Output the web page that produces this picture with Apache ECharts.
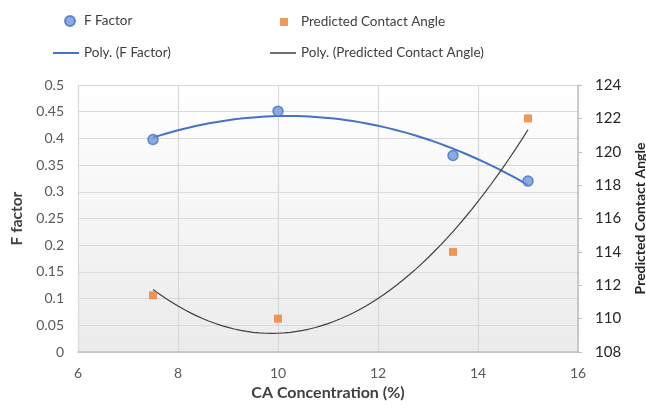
<!DOCTYPE html>
<html>
<head>
<meta charset="utf-8">
<script src="https://cdn.jsdelivr.net/npm/echarts@6/dist/echarts.min.js"></script>
<style>html,body{margin:0;padding:0;background:#fff;overflow:hidden}#c{width:646px;height:408px}</style>
</head>
<body>
<div id="c"></div>
<script>
// Data
const caConcentration = [7.5, 10, 13.5, 15];
const fFactor = [0.398, 0.451, 0.368, 0.320];
const contactAngle = [111.4, 110.0, 114.0, 122.0];
const xTicks = {min: 6, max: 16, interval: 2};
const leftTicks = {min: 0, max: 0.5, interval: 0.05};
const rightTicks = {min: 108, max: 124, interval: 2};

// Degree-2 least-squares polynomial trend line (as Excel "Poly." trendline)
function polyfit2(xs, ys) {
  let n = xs.length, s1 = 0, s2 = 0, s3 = 0, s4 = 0, t0 = 0, t1 = 0, t2 = 0;
  for (let i = 0; i < n; i++) {
    const x = xs[i], y = ys[i];
    s1 += x; s2 += x * x; s3 += x * x * x; s4 += x * x * x * x;
    t0 += y; t1 += x * y; t2 += x * x * y;
  }
  const M = [[n, s1, s2], [s1, s2, s3], [s2, s3, s4]], V = [t0, t1, t2];
  const det = m => m[0][0]*(m[1][1]*m[2][2]-m[1][2]*m[2][1]) - m[0][1]*(m[1][0]*m[2][2]-m[1][2]*m[2][0]) + m[0][2]*(m[1][0]*m[2][1]-m[1][1]*m[2][0]);
  const D = det(M);
  const coef = [0, 1, 2].map(k => det(M.map((row, r) => row.map((v, c) => c === k ? V[r] : v))) / D);
  return x => coef[0] + coef[1] * x + coef[2] * x * x;
}
function trend(xs, ys) {
  const f = polyfit2(xs, ys), out = [];
  const x0 = Math.min(...xs), x1 = Math.max(...xs);
  for (let i = 0; i <= 60; i++) { const x = x0 + (x1 - x0) * i / 60; out.push([x, f(x)]); }
  return out;
}

const FONT = 'Lato';
const chart = echarts.init(document.getElementById('c'));
const legendText = {fontFamily: FONT, fontSize: 13.5, color: '#404040'};
chart.setOption({
  animation: false,
  textStyle: {fontFamily: FONT},
  legend: [
    {data: [{name: 'F Factor', icon: 'circle'}], left: 64, top: 14, padding: 0, itemWidth: 10, itemHeight: 10, textStyle: Object.assign({padding: [0, 0, 0, 4]}, legendText)},
    {data: [{name: 'Predicted Contact Angle', icon: 'rect'}], left: 280, top: 15, padding: 0, itemWidth: 8, itemHeight: 8, textStyle: Object.assign({padding: [0, 0, 0, 8]}, legendText)},
    {data: [{name: 'Poly. (F Factor)', icon: 'rect'}], left: 53, top: 46, padding: 0, itemWidth: 26, itemHeight: 2, textStyle: legendText},
    {data: [{name: 'Poly. (Predicted Contact Angle)', icon: 'rect'}], left: 270, top: 46, padding: 0, itemWidth: 26, itemHeight: 1.5, textStyle: legendText}
  ],
  grid: {
    left: 78, right: 68, top: 85, bottom: 56, show: true, borderWidth: 0,
    outerBoundsMode: 'none', containLabel: false,
    backgroundColor: {type: 'linear', x: 0, y: 0, x2: 0, y2: 1, colorStops: [{offset: 0, color: '#ffffff'}, {offset: 1, color: '#ebebeb'}]}
  },
  xAxis: {
    type: 'value', min: xTicks.min, max: xTicks.max, interval: xTicks.interval,
    name: 'CA Concentration (%)', nameLocation: 'middle', nameGap: 33,
    nameTextStyle: {fontFamily: FONT, fontSize: 16, fontWeight: 'bold', color: '#404040'},
    axisLine: {show: true, lineStyle: {color: '#bfbfbf', width: 1.5}},
    axisTick: {show: false},
    axisLabel: {fontFamily: FONT, fontSize: 14, color: '#595959', margin: 14},
    splitLine: {show: true, lineStyle: {color: '#d9d9d9', width: 1.2}}
  },
  yAxis: [
    {
      type: 'value', min: leftTicks.min, max: leftTicks.max, interval: leftTicks.interval,
      name: 'F factor', nameLocation: 'middle', nameGap: 48,
      nameTextStyle: {fontFamily: FONT, fontSize: 15.5, fontWeight: 'bold', color: '#404040'},
      axisLine: {show: false}, axisTick: {show: false},
      axisLabel: {fontFamily: FONT, fontSize: 14, color: '#595959', margin: 14},
      splitLine: {show: true, lineStyle: {color: '#d9d9d9', width: 1.2}}
    },
    {
      type: 'value', position: 'right', min: rightTicks.min, max: rightTicks.max, interval: rightTicks.interval,
      name: 'Predicted Contact Angle', nameLocation: 'middle', nameGap: 55,
      nameTextStyle: {fontFamily: FONT, fontSize: 14, fontWeight: 'bold', color: '#262626'},
      axisLine: {show: true, lineStyle: {color: '#bfbfbf', width: 1.5}},
      axisTick: {show: true, inside: false, length: 4, lineStyle: {color: '#bfbfbf'}},
      axisLabel: {fontFamily: FONT, fontSize: 15, color: '#262626', margin: 17},
      splitLine: {show: false}
    }
  ],
  series: [
    {
      name: 'Poly. (F Factor)', type: 'line', yAxisIndex: 0, data: trend(caConcentration, fFactor),
      showSymbol: false, symbol: 'none', smooth: false, lineStyle: {color: '#4472c4', width: 2}, itemStyle: {color: '#4472c4'}, z: 2
    },
    {
      name: 'Poly. (Predicted Contact Angle)', type: 'line', yAxisIndex: 1, data: trend(caConcentration, contactAngle),
      showSymbol: false, symbol: 'none', smooth: false, lineStyle: {color: '#404040', width: 1.2}, itemStyle: {color: '#404040'}, z: 2
    },
    {
      name: 'F Factor', type: 'scatter', yAxisIndex: 0, data: caConcentration.map((x, i) => [x, fFactor[i]]),
      symbol: 'circle', symbolSize: 10, itemStyle: {color: '#7196dc', borderColor: '#4472c4', borderWidth: 1.5}, z: 3
    },
    {
      name: 'Predicted Contact Angle', type: 'scatter', yAxisIndex: 1, data: caConcentration.map((x, i) => [x, contactAngle[i]]),
      symbol: 'rect', symbolSize: 8, itemStyle: {color: '#ed7d31'}, z: 3
    }
  ]
});
</script>
</body>
</html>
